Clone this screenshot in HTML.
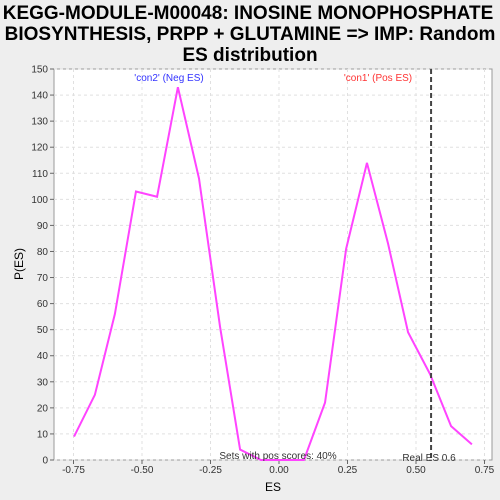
<!DOCTYPE html>
<html><head><meta charset="utf-8"><style>
body{margin:0;background:#eeeeee;font-family:"Liberation Sans","DejaVu Sans",sans-serif}
svg{display:block}
</style></head><body>
<svg id="chart" width="500" height="500">
<rect x="0" y="0" width="500" height="500" fill="#eeeeee"/>
<text x="248" y="19" text-anchor="middle" font-size="19" font-weight="bold" fill="#000">KEGG-MODULE-M00048: INOSINE MONOPHOSPHATE</text>
<text x="250" y="40" text-anchor="middle" font-size="19" font-weight="bold" fill="#000">BIOSYNTHESIS, PRPP + GLUTAMINE =&gt; IMP: Random</text>
<text x="250" y="61" text-anchor="middle" font-size="19" font-weight="bold" fill="#000">ES distribution</text>
<rect x="54" y="69" width="438" height="391" fill="#fff" stroke="#999"/>
<g id="grid"></g>
<g id="axes"></g>
<g id="series"></g>
<text x="169" y="81" text-anchor="middle" font-size="10" fill="#3333ff">'con2' (Neg ES)</text>
<text x="378" y="81" text-anchor="middle" font-size="10" fill="#ff3333">'con1' (Pos ES)</text>
<text x="278" y="459" text-anchor="middle" font-size="10" fill="#333">Sets with pos scores: 40%</text>
<text x="429" y="461" text-anchor="middle" font-size="10" fill="#333">Real ES 0.6</text>
<text x="273" y="491" text-anchor="middle" font-size="12" fill="#000">ES</text>
<text x="23" y="264" text-anchor="middle" font-size="12" fill="#000" transform="rotate(-90 23 264)">P(ES)</text>
</svg>
<script>
const esValues=[-0.748,-0.672,-0.599,-0.522,-0.445,-0.369,-0.292,-0.215,-0.142,-0.066,0.011,0.091,0.168,0.245,0.321,0.398,0.471,0.551,0.628,0.704];
const pValues=[9,25,56,103,101,143,108,51,4,0,0,0,22,81,114,83,49,33,13,6];
const xTicks=[-0.75,-0.5,-0.25,0,0.25,0.5,0.75];
const xTickLabels=["-0.75","-0.50","-0.25","0.00","0.25","0.50","0.75"];
const yTicks=[0,10,20,30,40,50,60,70,80,90,100,110,120,130,140,150];
const realES=[0.555];
const NS="http://www.w3.org/2000/svg";
const X=v=>279+v*274;
const Y=v=>460-v*(391/150);
function mk(tag,attrs,parent){const e=document.createElementNS(NS,tag);for(const k in attrs)e.setAttribute(k,attrs[k]);parent.appendChild(e);return e;}
const grid=document.getElementById('grid'),axes=document.getElementById('axes'),series=document.getElementById('series');
yTicks.forEach(t=>{
 const l=mk('line',{x1:54,x2:492,y1:Y(t),y2:Y(t),stroke:'#e0e0e0','stroke-dasharray':'3,3'},grid);
 
 
 const tk=mk('line',{x1:50,x2:54,y1:Y(t),y2:Y(t),stroke:'#666'},axes);
 
 
 const tx=mk('text',{x:48,y:Y(t)+3.5,'text-anchor':'end','font-size':10,fill:'#333'},axes);
 tx.textContent=t;
 
 
});
xTicks.forEach((t,i)=>{
 const l=mk('line',{x1:X(t),x2:X(t),y1:69,y2:460,stroke:'#e0e0e0','stroke-dasharray':'3,3'},grid);
 
 
 const tk=mk('line',{x1:X(t),x2:X(t),y1:460,y2:464,stroke:'#666'},axes);
 
 
 const tx=mk('text',{x:X(t),y:473,'text-anchor':'middle','font-size':10,fill:'#333'},axes);
 tx.textContent=xTickLabels[i];
 
 
});
const pts=esValues.map((v,i)=>X(v)+','+Y(pValues[i])).join(' ');
const pl=mk('polyline',{points:pts,fill:'none',stroke:'#ff44ff','stroke-width':2},series);


realES.forEach(v=>{
 const d=mk('line',{x1:X(v),x2:X(v),y1:69,y2:460,stroke:'#444','stroke-width':2,'stroke-dasharray':'5,3'},series);
 
 
});
</script>
</body></html>
